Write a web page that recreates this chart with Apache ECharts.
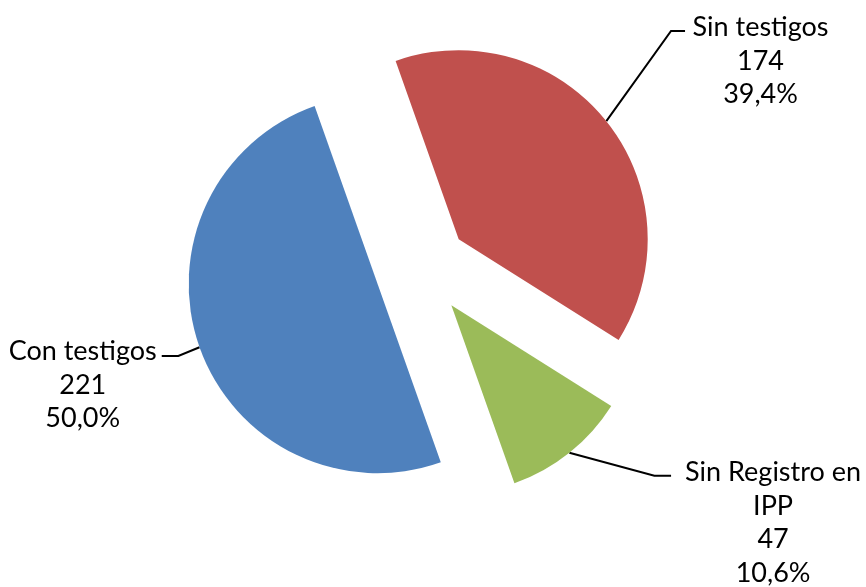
<!DOCTYPE html>
<html><head><meta charset="utf-8">
<script src="https://cdn.jsdelivr.net/npm/echarts@6/dist/echarts.min.js"></script>
<style>html,body{margin:0;padding:0;background:#fff}#c{width:866px;height:587px}</style>
</head><body><div id="c"></div>
<script>
const categories = ['Sin testigos', 'Sin Registro en IPP', 'Con testigos'];
const values = [174, 47, 221];
const colors = ['#C0504D', '#9BBB59', '#4F81BD'];

// label-line geometry relative to the slice's rim point: [elbow dx, elbow dy, tail dx, label centre dx, label middle dy]
const leaderShape = [
  [64.7, -90.2, 14, 75.5, 30],
  [85, 23, 16.7, 102, 46.8],
  [-21.2, 8.7, -16.6, -79, 29]
];

const chart = echarts.init(document.getElementById('c'), null, {renderer: 'canvas'});
chart.setOption({
  animation: false,
  series: [{
    type: 'pie',
    center: [422, 268.5],
    radius: 189,
    startAngle: 109.5,
    clockwise: true,
    selectedMode: 'multiple',
    selectedOffset: 47,
    emphasis: {disabled: true},
    data: categories.map((n, i) => ({name: n, value: values[i], selected: true, itemStyle: {color: colors[i]}})),
    label: {
      show: true,
      position: 'outside',
      fontFamily: 'Lato',
      fontSize: 27,
      lineHeight: 33.6,
      color: '#000',
      formatter: p => p.name.replace(' IPP', '\nIPP') + '\n' + p.value + '\n' + p.percent.toFixed(1).replace('.', ',') + '%'
    },
    labelLine: {show: true, length: 20, length2: 15, lineStyle: {color: '#000', width: 2}},
    labelLayout: function (p) {
      const s = leaderShape[p.dataIndex];
      const p0 = p.labelLinePoints[0];
      const p1 = [p0[0] + s[0], p0[1] + s[1]];
      const p2 = [p1[0] + s[2], p1[1]];
      const r = p.labelRect;
      const anchorX = p.align === 'right' ? r.x + r.width : (p.align === 'center' ? r.x + r.width / 2 : r.x);
      const anchorY = r.y + r.height / 2;
      return {
        dx: p2[0] + s[3] - anchorX,
        dy: p2[1] + s[4] - anchorY,
        align: 'center',
        verticalAlign: 'middle',
        labelLinePoints: [p0, p1, p2]
      };
    }
  }]
});
</script></body></html>
